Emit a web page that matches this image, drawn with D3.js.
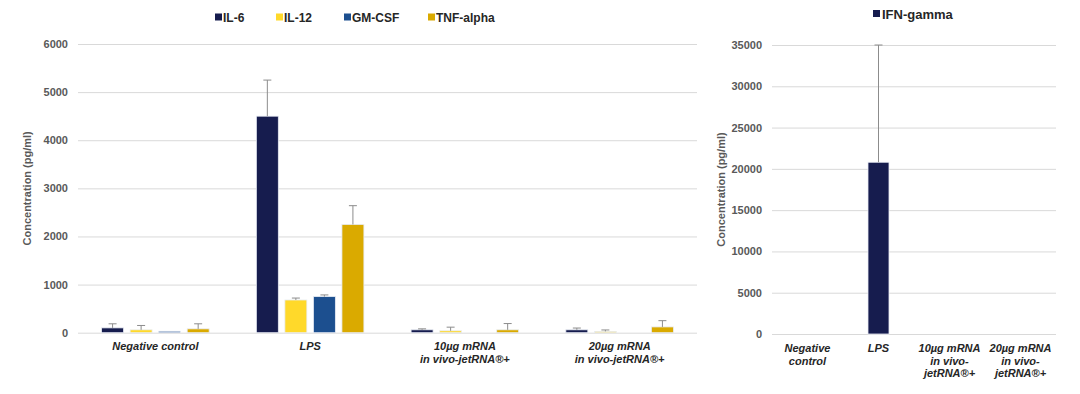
<!DOCTYPE html>
<html>
<head>
<meta charset="utf-8">
<script src="https://cdn.jsdelivr.net/npm/d3@7"></script>
<style>
  body { margin: 0; background: #fff; }
  svg text { font-family: "Liberation Sans", Arial, sans-serif; }
</style>
</head>
<body>
<div id="chart"></div>
<script>
// data
var categories = ["Negative control", "LPS", "10µg mRNA", "20µg mRNA"];
var leftLabels = [["Negative control"], ["LPS"], ["10µg mRNA", "in vivo-jetRNA®+"], ["20µg mRNA", "in vivo-jetRNA®+"]];
var rightLabels = [["Negative", "control"], ["LPS"], ["10µg mRNA", "in vivo-", "jetRNA®+"], ["20µg mRNA", "in vivo-", "jetRNA®+"]];

var series = ["IL-6", "IL-12", "GM-CSF", "TNF-alpha"];
var colors = ["#161c4e", "#ffd92a", "#1c4f8f", "#daaa00"];
var il6 = [100, 4500, 60, 60],    il6Err = [85, 750, 20, 37];
var il12 = [60, 680, 40, 27],     il12Err = [90, 40, 75, 30];
var gmcsf = [30, 750, 0, 0],      gmcsfErr = [0, 35, 0, 0];
var tnf = [80, 2250, 60, 120],    tnfErr = [105, 390, 130, 130];
var leftTicks = [0, 1000, 2000, 3000, 4000, 5000, 6000];

var ifn = [0, 20800, 0, 0],       ifnErr = [0, 14200, 0, 0];
var ifnColor = "#161c4e";
var rightTicks = [0, 5000, 10000, 15000, 20000, 25000, 30000, 35000];

var values = [il6, il12, gmcsf, tnf];
var errors = [il6Err, il12Err, gmcsfErr, tnfErr];

var svg = d3.select("#chart")
    .append("svg")
    .attr("width", 1080)
    .attr("height", 394);

var tickColor = "#595959", textColor = "#262626", gridColor = "#d9d9d9", errColor = "#8c8c8c";

// ---------- left chart ----------
var left = {x0: 78, x1: 697, y0: 332.7, y1: 44};

var x = d3.scaleBand().domain(categories).range([left.x0, left.x1]);
var groupW = x.bandwidth() * 0.695;
var x1 = d3.scaleBand().domain(series).range([-groupW / 2, groupW / 2]).paddingInner(0.23);
var y = d3.scaleLinear().domain([0, 6000]).range([left.y0, left.y1]);

var gl = svg.append("g");

gl.append("g")
    .attr("transform", "translate(" + left.x0 + ",0)")
    .call(d3.axisLeft(y).tickValues(leftTicks).tickFormat(d3.format("d"))
      .tickSize(-(left.x1 - left.x0)).tickPadding(10))
    .call(function(g) {
      g.select(".domain").remove();
      g.selectAll(".tick line").attr("stroke", gridColor);
      g.selectAll(".tick text").attr("fill", tickColor).attr("font-size", 11).attr("font-weight", "bold");
    });

series.forEach(function(s, i) {
  var grp = gl.append("g");
  grp.selectAll("rect")
      .data(categories)
      .enter().append("rect")
      .filter(function(c, j) { return values[i][j] > 0; })
      .attr("x", function(c) { return x(c) + x.bandwidth() / 2 + x1(s); })
      .attr("y", function(c, j) { return y(values[i][categories.indexOf(c)]); })
      .attr("width", x1.bandwidth())
      .attr("height", function(c) { return left.y0 - y(values[i][categories.indexOf(c)]); })
      .attr("fill", colors[i])
      .attr("stroke", "#e8ecf4")
      .attr("stroke-width", 0.8);

  categories.forEach(function(c, j) {
    if (errors[i][j] <= 0) return;
    var cx = x(c) + x.bandwidth() / 2 + x1(s) + x1.bandwidth() / 2;
    var top = y(values[i][j] + errors[i][j]);
    grp.append("line").attr("x1", cx).attr("x2", cx)
        .attr("y1", y(values[i][j])).attr("y2", top)
        .attr("stroke", errColor).attr("stroke-width", 1);
    grp.append("line").attr("x1", cx - 4).attr("x2", cx + 4)
        .attr("y1", top).attr("y2", top)
        .attr("stroke", errColor).attr("stroke-width", 1);
  });
});

categories.forEach(function(c, j) {
  var t = gl.append("text")
      .attr("x", x(c) + x.bandwidth() / 2)
      .attr("y", 350)
      .attr("text-anchor", "middle")
      .attr("font-size", 11)
      .attr("font-weight", "bold")
      .attr("font-style", "italic")
      .attr("fill", textColor);
  leftLabels[j].forEach(function(line, k) {
    t.append("tspan").attr("x", x(c) + x.bandwidth() / 2).attr("dy", k === 0 ? 0 : 13).text(line);
  });
});

gl.append("text")
    .attr("transform", "translate(31," + ((left.y0 + left.y1) / 2) + ") rotate(-90)")
    .attr("text-anchor", "middle")
    .attr("font-size", 11)
    .attr("font-weight", "bold")
    .attr("fill", tickColor)
    .text("Concentration (pg/ml)");

// legend
var legendX = [215, 276, 344, 428];
series.forEach(function(s, i) {
  gl.append("rect").attr("x", legendX[i]).attr("y", 13.5).attr("width", 7).attr("height", 7).attr("fill", colors[i]);
  gl.append("text").attr("x", legendX[i] + 8).attr("y", 21.5)
      .attr("font-size", 12).attr("font-weight", "bold").attr("fill", textColor).text(s);
});

// ---------- right chart ----------
var right = {x0: 772, x1: 1056, y0: 334, y1: 45};

var xr = d3.scaleBand().domain(categories).range([right.x0, right.x1]);
var yr = d3.scaleLinear().domain([0, 35000]).range([right.y0, right.y1]);
var barW = 21;

var gr = svg.append("g");

gr.append("g")
    .attr("transform", "translate(" + right.x0 + ",0)")
    .call(d3.axisLeft(yr).tickValues(rightTicks).tickFormat(d3.format("d"))
      .tickSize(-(right.x1 - right.x0)).tickPadding(10))
    .call(function(g) {
      g.select(".domain").remove();
      g.selectAll(".tick line").attr("stroke", gridColor);
      g.selectAll(".tick text").attr("fill", tickColor).attr("font-size", 11).attr("font-weight", "bold");
    });

gr.selectAll("rect.bar")
    .data(categories)
    .enter().append("rect")
    .filter(function(c, j) { return ifn[j] > 0; })
    .attr("class", "bar")
    .attr("x", function(c) { return xr(c) + xr.bandwidth() / 2 - barW / 2; })
    .attr("y", function(c) { return yr(ifn[categories.indexOf(c)]); })
    .attr("width", barW)
    .attr("height", function(c) { return right.y0 - yr(ifn[categories.indexOf(c)]); })
    .attr("fill", ifnColor)
    .attr("stroke", "#e8ecf4")
    .attr("stroke-width", 0.8);

categories.forEach(function(c, j) {
  if (ifnErr[j] <= 0) return;
  var cx = xr(c) + xr.bandwidth() / 2;
  var top = yr(ifn[j] + ifnErr[j]);
  gr.append("line").attr("x1", cx).attr("x2", cx).attr("y1", yr(ifn[j])).attr("y2", top)
      .attr("stroke", errColor).attr("stroke-width", 1);
  gr.append("line").attr("x1", cx - 4).attr("x2", cx + 4).attr("y1", top).attr("y2", top)
      .attr("stroke", errColor).attr("stroke-width", 1);
});

categories.forEach(function(c, j) {
  var cx = xr(c) + xr.bandwidth() / 2;
  var t = gr.append("text")
      .attr("x", cx)
      .attr("y", 352)
      .attr("text-anchor", "middle")
      .attr("font-size", 11)
      .attr("font-weight", "bold")
      .attr("font-style", "italic")
      .attr("fill", textColor);
  rightLabels[j].forEach(function(line, k) {
    t.append("tspan").attr("x", cx).attr("dy", k === 0 ? 0 : 12.5).text(line);
  });
});

gr.append("text")
    .attr("transform", "translate(725," + ((right.y0 + right.y1) / 2) + ") rotate(-90)")
    .attr("text-anchor", "middle")
    .attr("font-size", 11)
    .attr("font-weight", "bold")
    .attr("fill", tickColor)
    .text("Concentration (pg/ml)");

gr.append("rect").attr("x", 873).attr("y", 10).attr("width", 7).attr("height", 7).attr("fill", ifnColor);
gr.append("text").attr("x", 882).attr("y", 18.5)
    .attr("font-size", 13).attr("font-weight", "bold").attr("fill", textColor).text("IFN-gamma");
</script>
</body>
</html>
